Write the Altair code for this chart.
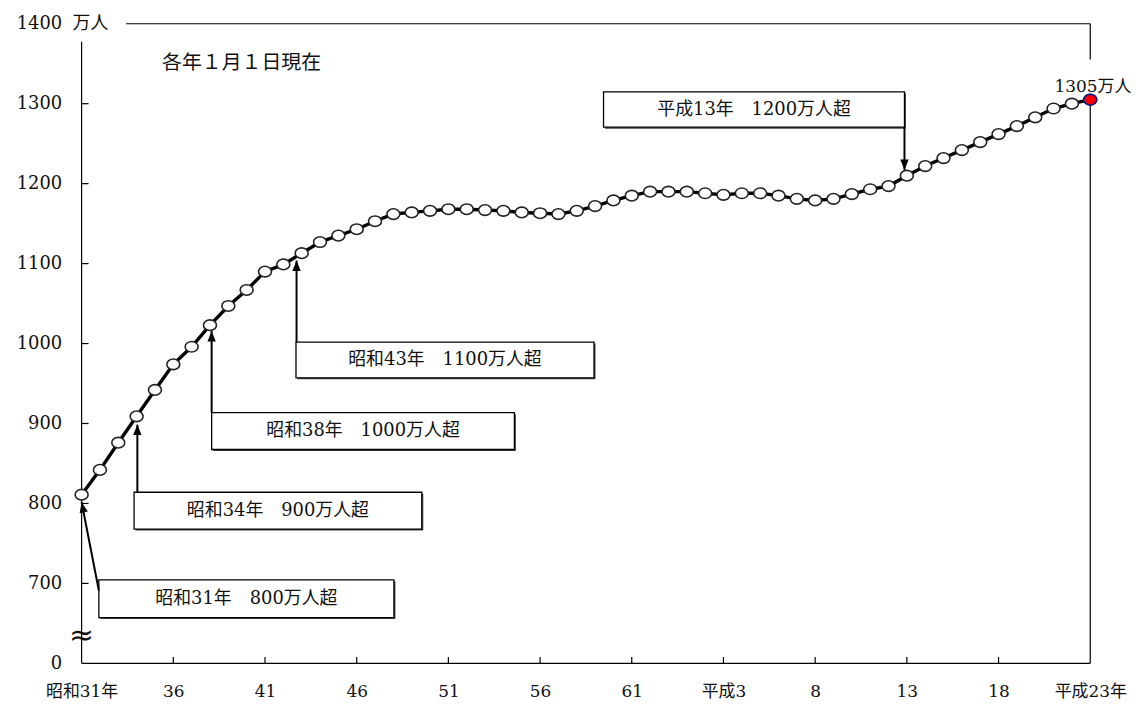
import altair as alt
import pandas as pd

# ---------------- data ----------------
years = list(range(1956, 2012))
population = [811, 842, 876, 909, 942, 974, 996, 1023, 1047, 1067,
              1090, 1099, 1113, 1127, 1135, 1143, 1153, 1162, 1164, 1166,
              1168, 1168, 1167, 1166, 1164, 1163, 1162, 1166, 1172, 1179,
              1185, 1190, 1190, 1190, 1188, 1186, 1188, 1188, 1185, 1181,
              1179, 1181, 1187, 1193, 1197, 1210, 1222, 1232, 1242, 1252,
              1262, 1272, 1283, 1294, 1300, 1305]

tick_years = [1956, 1961, 1966, 1971, 1976, 1981, 1986, 1991, 1996, 2001, 2006, 2011]
tick_labels = ["昭和31年", "36", "41", "46", "51", "56", "61", "平成3", "8", "13", "18", "平成23年"]
y_ticks = [600, 700, 800, 900, 1000, 1100, 1200, 1300, 1400]
y_tick_labels = ["0\u2002", "700", "800", "900", "1000", "1100", "1200", "1300", "1400"]

note_texts = ["昭和31年　800万人超", "昭和34年　900万人超", "昭和38年　1000万人超",
              "昭和43年　1100万人超", "平成13年　1200万人超"]
# annotation geometry (in data units: year / 万人)
note_x1 = [1956.94, 1958.86, 1963.09, 1967.69, 1984.46]
note_x2 = [1973.03, 1974.55, 1979.60, 1983.94, 2000.87]
note_y1 = [657.2, 768.0, 867.5, 957.1, 1270.6]
note_y2 = [704.5, 814.0, 913.5, 1001.9, 1314.8]
arrow_x_from = [1956.94, 1959.04, 1963.09, 1967.72, 2000.87]
arrow_y_from = [691.2, 814.0, 913.5, 1001.9, 1270.6]
arrow_x_tip = [1956.0, 1959.04, 1963.09, 1967.72, 2000.87]
arrow_y_tip = [801.6, 898.6, 1015.6, 1103.9, 1217.1]
arrow_angle = [348.3, 0, 0, 0, 180]

SERIF = "'DejaVu Serif', 'Noto Sans CJK JP'"

xs = alt.Scale(domain=[1956, 2011], nice=False, zero=False)
ys = alt.Scale(domain=[600, 1400], nice=False, zero=False)

x_label_expr = "".join(f"datum.value == {y} ? '{l}' : " for y, l in zip(tick_years, tick_labels)) + "''"
y_label_expr = "".join(f"datum.value == {y} ? '{l}' : " for y, l in zip(y_ticks, y_tick_labels)) + "''"

x_axis = alt.Axis(values=tick_years, labelExpr=x_label_expr, domain=False, ticks=False, grid=False,
                  labelFlush=False, labelOverlap=False, labelPadding=28, labelBaseline="middle",
                  labelFont=SERIF, labelFontSize=17, labelColor="#111", title=None)
y_axis = alt.Axis(values=y_ticks, labelExpr=y_label_expr, domain=False, ticks=False, grid=False,
                  labelOverlap=False, labelPadding=20, labelFont=SERIF, labelFontSize=18,
                  labelColor="#111", title=None)


def X(f):
    return alt.X(f, scale=xs, axis=x_axis)


def Y(f):
    return alt.Y(f, scale=ys, axis=y_axis)


df = pd.DataFrame({"year": years, "pop": population})
last = pd.DataFrame({"year": [years[-1]], "pop": [population[-1]]})


def seg_layer(d, color="#000", width=1.2):
    return alt.Chart(d).mark_rule(color=color, strokeWidth=width).encode(
        x=X("x:Q"), x2="x2:Q", y=Y("y:Q"), y2="y2:Q")


# ---------------- frame ----------------
frame = pd.DataFrame({
    "x": [1956, 1956, 1958.42, 2011, 2011],
    "x2": [1956, 2011, 2011, 2011, 2011],
    "y": [600, 600, 1400, 1400, 1305],
    "y2": [1377.6, 600, 1400, 1355.2, 600],
})
frame_layer = seg_layer(frame)

inner = y_ticks[1:-1]
ytick_df = pd.DataFrame({"x": [1956] * len(inner), "x2": [1956.38] * len(inner), "y": inner, "y2": inner})
ytick_layer = seg_layer(ytick_df)

innerx = tick_years[1:-1]
xtick_df = pd.DataFrame({"x": innerx, "x2": innerx, "y": [600] * len(innerx), "y2": [608.0] * len(innerx)})
xtick_layer = seg_layer(xtick_df)

# ---------------- annotations ----------------
notes = pd.DataFrame({
    "text": note_texts, "x": note_x1, "x2": note_x2, "y": note_y1, "y2": note_y2,
    "xm": [(a + b) / 2 for a, b in zip(note_x1, note_x2)],
    "ym": [(a + b) / 2 for a, b in zip(note_y1, note_y2)],
})
shadow = alt.Chart(notes).mark_rect(fill="#444", xOffset=1.5, x2Offset=1.5, yOffset=1.5, y2Offset=1.5).encode(
    x=X("x:Q"), x2="x2:Q", y=Y("y:Q"), y2="y2:Q")
boxes = alt.Chart(notes).mark_rect(fill="white", stroke="#000", strokeWidth=1.3).encode(
    x=X("x:Q"), x2="x2:Q", y=Y("y:Q"), y2="y2:Q")
box_text = alt.Chart(notes).mark_text(font=SERIF, fontSize=18, color="#111", baseline="middle", align="center").encode(
    x=X("xm:Q"), y=Y("ym:Q"), text="text:N")

arrows = pd.DataFrame({"x": arrow_x_from, "y": arrow_y_from, "x2": arrow_x_tip,
                       "y2": arrow_y_tip, "ang": arrow_angle})
arrow_lines = seg_layer(arrows, width=2)
arrow_heads = alt.Chart(arrows).mark_point(shape="M0,0L-0.8,2L0.8,2Z", filled=True, color="#000",
                                           size=110, opacity=1).encode(
    x=X("x2:Q"), y=Y("y2:Q"), angle=alt.Angle("ang:Q", scale=None))

# ---------------- data marks ----------------
ELLIPSE = "M-1,0A1,0.82 0 1,1 1,0A1,0.82 0 1,1 -1,0Z"
line = alt.Chart(df).mark_line(color="#000", strokeWidth=3.4).encode(x=X("year:Q"), y=Y("pop:Q"))
points = alt.Chart(df).mark_point(shape=ELLIPSE, filled=True, fill="white", stroke="#222",
                                  strokeWidth=1.6, size=169, opacity=1).encode(x=X("year:Q"), y=Y("pop:Q"))
last_point = alt.Chart(last).mark_point(shape=ELLIPSE, filled=True, fill="#ff0000", stroke="#1a1a80",
                                        strokeWidth=1.6, size=169, opacity=1).encode(x=X("year:Q"), y=Y("pop:Q"))


# ---------------- texts ----------------
def text_layer(t, x, y, align, size, font=SERIF):
    d = pd.DataFrame({"x": [x], "y": [y], "t": [t]})
    return alt.Chart(d).mark_text(font=font, fontSize=size, color="#111", baseline="middle",
                                  align=align).encode(x=X("x:Q"), y=Y("y:Q"), text="t:N")


t_unit = text_layer("万人", 1955.51, 1400, "left", 18)
t_note = text_layer("各年１月１日現在", 1960.39, 1350.6, "left", 20)
t_last = text_layer("1305万人", 2011.15, 1320.4, "center", 17)
t_brk = text_layer("≈", 1956, 633.6, "center", 30, font="DejaVu Sans")

chart = alt.layer(
    frame_layer, ytick_layer, xtick_layer, shadow, boxes, box_text, arrow_lines, arrow_heads,
    line, points, last_point, t_unit, t_note, t_last, t_brk
).properties(
    width=1014, height=643,
    padding={"left": 74, "top": 14, "right": 47, "bottom": 35},
    autosize=alt.AutoSizeParams(type="none"),
    background="white",
).configure_view(stroke=None)

chart.save("out.html", embed_options={"renderer": "svg", "actions": False})
